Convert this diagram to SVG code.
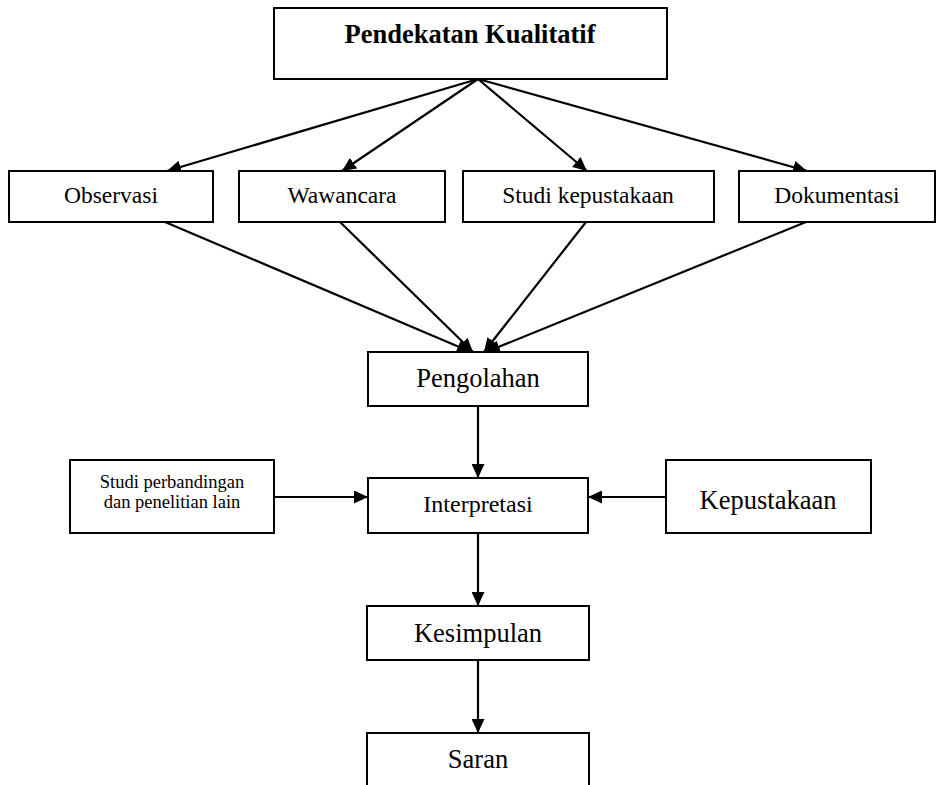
<svg xmlns="http://www.w3.org/2000/svg" width="943" height="785" viewBox="0 0 943 785">
  <defs>
    <marker id="arrow" markerUnits="userSpaceOnUse" markerWidth="15" markerHeight="13" refX="14" refY="6.5" orient="auto">
      <path d="M0,0 L14,6.5 L0,13 z" fill="#000"/>
    </marker>
    <style>
      .box { fill: #fff; stroke: #000; stroke-width: 2; }
      .lbl { font-family: "Liberation Serif", "Times New Roman", serif; fill: #000; text-anchor: middle; }
      .conn line { stroke: #000; stroke-width: 2.2; marker-end: url(#arrow); }
    </style>
  </defs>
  <rect width="943" height="785" fill="#fff"/>

  <g id="connectors" class="conn">
    <!-- fan-out from the approach box -->
    <line x1="478" y1="79" x2="167" y2="171"/>
    <line x1="478" y1="79" x2="342" y2="171"/>
    <line x1="478" y1="79" x2="587" y2="171"/>
    <line x1="478" y1="79" x2="807" y2="171"/>
    <!-- fan-in to processing -->
    <line x1="165" y1="222" x2="471" y2="352"/>
    <line x1="340" y1="222" x2="473" y2="352"/>
    <line x1="586" y1="222" x2="484" y2="352"/>
    <line x1="806" y1="222" x2="486" y2="352"/>
    <!-- main vertical flow -->
    <line x1="478" y1="406" x2="478" y2="478"/>
    <line x1="478" y1="533" x2="478" y2="606"/>
    <line x1="478" y1="660" x2="478" y2="733"/>
    <!-- side inputs -->
    <line x1="274" y1="497" x2="368" y2="497"/>
    <line x1="666" y1="497" x2="588" y2="497"/>
  </g>

  <g id="pendekatan">
    <rect class="box" x="274" y="8" width="393" height="71"/>
    <text class="lbl" x="470" y="43" font-size="26.5" font-weight="bold">Pendekatan Kualitatif</text>
  </g>

  <g id="observasi">
    <rect class="box" x="9" y="171" width="204" height="51"/>
    <text class="lbl" x="111" y="203" font-size="23.5">Observasi</text>
  </g>
  <g id="wawancara">
    <rect class="box" x="239" y="171" width="206" height="51"/>
    <text class="lbl" x="342" y="203" font-size="23.5">Wawancara</text>
  </g>
  <g id="studi-kepustakaan">
    <rect class="box" x="463" y="171" width="251" height="51"/>
    <text class="lbl" x="588" y="203" font-size="23.5">Studi kepustakaan</text>
  </g>
  <g id="dokumentasi">
    <rect class="box" x="739" y="171" width="196" height="51"/>
    <text class="lbl" x="837" y="203" font-size="23.5">Dokumentasi</text>
  </g>

  <g id="pengolahan">
    <rect class="box" x="368" y="352" width="220" height="54"/>
    <text class="lbl" x="478" y="387" font-size="26.5">Pengolahan</text>
  </g>

  <g id="studi-perbandingan">
    <rect class="box" x="70" y="460" width="204" height="73"/>
    <text class="lbl" x="172" y="488" font-size="18.5">Studi perbandingan</text>
    <text class="lbl" x="172" y="508" font-size="18.5">dan penelitian lain</text>
  </g>

  <g id="interpretasi">
    <rect class="box" x="368" y="478" width="220" height="55"/>
    <text class="lbl" x="478" y="512" font-size="24">Interpretasi</text>
  </g>

  <g id="kepustakaan">
    <rect class="box" x="666" y="460" width="205" height="73"/>
    <text class="lbl" x="768" y="509" font-size="26.5">Kepustakaan</text>
  </g>

  <g id="kesimpulan">
    <rect class="box" x="367" y="606" width="222" height="54"/>
    <text class="lbl" x="478" y="642" font-size="26.5">Kesimpulan</text>
  </g>

  <g id="saran">
    <rect class="box" x="367" y="733" width="222" height="70"/>
    <text class="lbl" x="478" y="768" font-size="26.5">Saran</text>
  </g>
</svg>
